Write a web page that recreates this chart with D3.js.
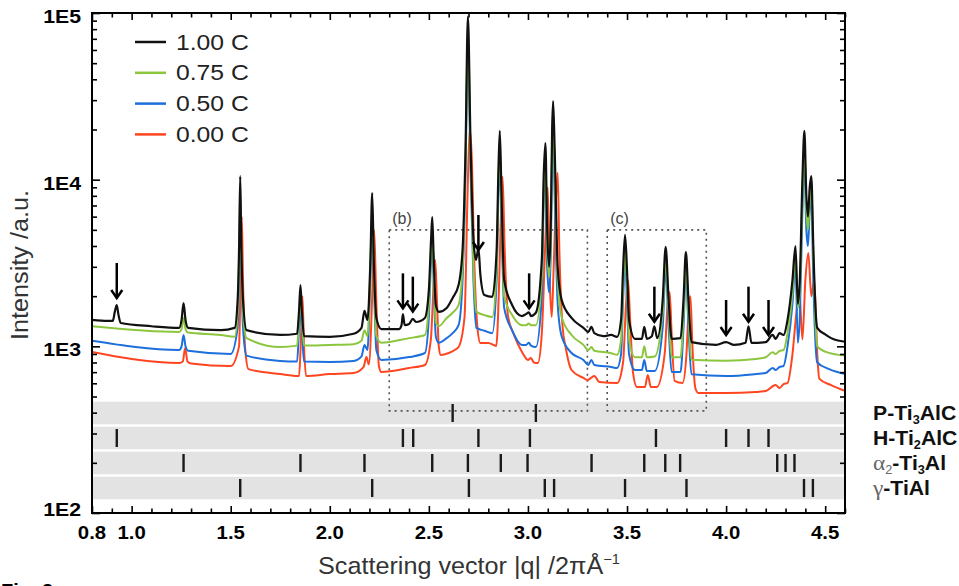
<!DOCTYPE html>
<html>
<head>
<meta charset="utf-8">
<script src="https://cdn.jsdelivr.net/npm/d3@7"></script>
<style>
  body { margin: 0; background: #fff; }
  svg { display: block; font-family: "Liberation Sans", Arial, sans-serif; }
</style>
</head>
<body>
<svg width="959" height="586"></svg>
<script>
// **** Data: [q (1/2piA), intensity (a.u.)] ****

var c100 = [
  [0.80,1440],[0.88,1420],[0.905,1420],[0.915,1610],[0.925,1770],[0.933,1560],[0.945,1380],
  [1.10,1320],[1.24,1290],[1.252,1440],[1.262,1820],[1.272,1440],[1.285,1290],
  [1.45,1250],[1.52,1290],[1.535,1900],[1.543,4350],[1.548,10500],[1.553,4350],[1.562,1900],[1.58,1250],
  [1.75,1170],[1.835,1190],[1.845,1650],[1.852,2330],[1.859,1650],[1.87,1150],
  [2.00,1140],[2.12,1190],[2.16,1290],[2.175,1630],[2.19,1440],[2.205,3300],[2.214,8320],[2.222,3300],[2.235,1480],[2.26,1270],
  [2.35,1270],[2.362,1340],[2.369,1560],[2.378,1340],[2.40,1360],[2.419,1460],[2.435,1400],
  [2.48,1480],[2.50,2180],[2.511,4350],[2.517,5970],[2.523,3790],[2.535,1770],[2.55,1610],[2.59,1700],[2.62,1950],[2.65,2330],
  [2.67,3790],[2.685,15100],[2.697,95000],[2.71,17300],[2.725,4350],[2.738,3300],[2.75,3890],[2.76,2680],[2.78,2030],[2.82,1980],
  [2.842,3790],[2.851,11400],[2.858,19600],[2.866,8670],[2.88,2500],[2.92,1770],[2.97,1520],[2.99,1560],[3.005,1600],[3.015,1520],[3.04,1590],
  [3.07,3300],[3.08,11000],[3.088,16600],[3.097,5000],[3.107,3000],[3.116,6000],[3.122,20000],[3.127,29600],[3.135,15000],[3.15,3000],[3.17,1900],
  [3.22,1480],[3.28,1290],[3.305,1220],[3.32,1310],[3.335,1200],[3.38,1150],[3.42,1170],[3.45,1140],
  [3.47,1440],[3.48,2870],[3.49,4660],[3.50,2870],[3.51,1440],[3.54,1110],[3.575,1110],[3.587,1310],[3.60,1110],[3.625,1150],[3.638,1320],[3.652,1120],
  [3.68,1900],[3.695,3950],[3.71,1900],[3.725,1110],[3.77,1120],[3.785,1900],[3.797,3680],[3.81,1900],[3.825,1060],
  [3.95,1020],[4.00,1060],[4.04,1020],[4.098,1050],[4.113,1320],[4.128,1050],[4.20,1060],[4.235,1170],[4.25,1110],[4.27,1200],[4.29,1170],
  [4.31,1440],[4.335,2500],[4.35,4000],[4.362,1800],[4.372,2500],[4.385,9950],[4.395,19600],[4.405,8000],[4.413,6000],[4.422,9000],[4.43,10500],
  [4.44,4000],[4.45,1800],[4.46,1290],[4.50,1180],[4.53,1120],[4.60,1065]
];

var c075 = [
  [0.80,1320],[1.24,1220],[1.252,1270],[1.262,1480],[1.272,1270],[1.285,1210],
  [1.45,1170],[1.52,1140],[1.535,1600],[1.543,3800],[1.548,8670],[1.553,3800],[1.562,1600],[1.58,1120],
  [1.75,990],[1.835,1010],[1.845,1500],[1.852,2030],[1.859,1500],[1.87,1010],
  [2.00,1020],[2.12,1030],[2.16,1080],[2.175,1250],[2.19,1150],[2.205,3000],[2.214,7050],[2.222,3000],[2.235,1150],[2.26,1050],
  [2.40,1120],[2.48,1170],[2.50,1800],[2.511,3800],[2.517,4660],[2.523,3200],[2.535,1400],[2.55,1320],[2.59,1480],[2.62,1590],[2.65,1770],
  [2.67,3000],[2.685,13000],[2.697,79000],[2.71,14000],[2.725,3000],[2.74,1610],[2.78,1540],[2.82,1500],
  [2.842,3000],[2.851,9500],[2.858,16100],[2.866,7000],[2.88,2000],[2.92,1540],[2.97,1340],[2.99,1340],[3.005,1370],[3.015,1340],[3.04,1340],
  [3.07,2600],[3.08,9500],[3.088,13100],[3.097,4000],[3.107,2600],[3.116,5000],[3.122,17000],[3.127,24400],[3.135,11000],[3.15,2500],[3.17,1500],
  [3.22,1170],[3.28,1020],[3.305,950],[3.32,990],[3.335,940],[3.42,910],[3.45,890],
  [3.47,1100],[3.48,2300],[3.49,3790],[3.50,2300],[3.51,1100],[3.54,860],[3.575,860],[3.587,1000],[3.60,860],[3.64,870],
  [3.68,1600],[3.695,3390],[3.71,1600],[3.725,860],[3.77,860],[3.785,1550],[3.797,3200],[3.81,1550],[3.825,830],
  [4.00,820],[4.15,840],[4.20,860],[4.235,920],[4.25,900],[4.27,940],[4.29,950],
  [4.31,1200],[4.335,2100],[4.35,3530],[4.362,1700],[4.372,2200],[4.385,8000],[4.395,16100],[4.405,6500],[4.413,5000],[4.422,7500],[4.43,9300],
  [4.44,3500],[4.45,1500],[4.46,1000],[4.50,930],[4.60,880]
];

var c050 = [
  [0.80,1080],[1.24,951],[1.252,1000],[1.262,1170],[1.272,1000],[1.285,940],
  [1.50,900],[1.535,1300],[1.543,3300],[1.548,7550],[1.553,3300],[1.562,1300],[1.58,880],
  [1.75,817],[1.835,810],[1.845,1300],[1.852,1770],[1.859,1300],[1.87,810],
  [2.00,805],[2.12,817],[2.16,870],[2.175,1020],[2.19,951],[2.205,2700],[2.214,6140],[2.222,2700],[2.235,950],[2.26,828],
  [2.40,862],[2.48,912],[2.50,1500],[2.511,3300],[2.517,4050],[2.523,2700],[2.535,1150],[2.55,1050],[2.59,1120],[2.62,1200],[2.65,1340],
  [2.67,2500],[2.685,11000],[2.697,68900],[2.71,12000],[2.725,2500],[2.74,1290],[2.78,1240],[2.82,1200],
  [2.842,2500],[2.851,8000],[2.858,14100],[2.866,6000],[2.88,1700],[2.92,1250],[2.97,1020],[2.99,1020],[3.005,1050],[3.015,1010],[3.04,990],
  [3.07,2000],[3.08,8000],[3.088,10700],[3.097,3000],[3.107,2100],[3.116,4000],[3.122,15000],[3.127,19900],[3.135,8000],[3.15,1800],[3.17,1150],
  [3.22,912],[3.28,828],[3.305,773],[3.32,828],[3.335,773],[3.42,751],[3.45,741],
  [3.47,900],[3.48,1900],[3.49,3300],[3.50,1900],[3.51,900],[3.54,721],[3.575,721],[3.587,828],[3.60,711],[3.64,711],
  [3.68,1300],[3.695,2950],[3.71,1300],[3.725,701],[3.77,701],[3.785,1300],[3.797,2780],[3.81,1300],[3.825,680],
  [4.00,664],[4.15,682],[4.20,692],[4.235,741],[4.25,721],[4.27,752],[4.29,762],
  [4.31,1000],[4.335,1800],[4.35,3200],[4.362,1050],[4.372,1500],[4.385,6500],[4.395,13100],[4.405,5000],[4.413,4000],[4.422,6500],[4.43,8080],
  [4.44,2500],[4.45,1100],[4.46,800],[4.52,730],[4.60,682]
];

var c000 = [
  [0.80,925],[1.24,794],[1.258,810],[1.27,977],[1.282,810],[1.30,790],
  [1.50,762],[1.542,1000],[1.55,2500],[1.556,6000],[1.562,2500],[1.572,1000],[1.59,730],
  [1.75,682],[1.845,664],[1.853,1000],[1.862,2000],[1.87,1000],[1.88,664],
  [2.00,682],[2.12,692],[2.17,750],[2.185,862],[2.197,780],[2.214,2000],[2.224,4990],[2.234,2000],[2.248,760],[2.26,701],
  [2.40,741],[2.48,773],[2.51,1100],[2.525,2500],[2.532,3300],[2.54,2000],[2.55,1000],[2.56,887],[2.60,912],[2.63,951],[2.65,991],
  [2.68,1500],[2.695,8000],[2.706,20000],[2.716,14000],[2.73,3000],[2.745,1300],[2.76,1047],[2.80,1047],[2.84,1005],
  [2.855,2500],[2.865,7000],[2.872,10400],[2.882,4000],[2.90,1500],[2.93,1169],[2.97,925],[3.00,828],[3.015,851],[3.03,800],[3.05,794],
  [3.07,1200],[3.09,5000],[3.10,9000],[3.11,2500],[3.12,1500],[3.13,3000],[3.142,8000],[3.15,11000],[3.158,4000],[3.175,1300],[3.19,991],
  [3.22,721],[3.28,646],[3.30,628],[3.335,664],[3.36,611],[3.45,602],
  [3.48,800],[3.495,1800],[3.505,2500],[3.515,1500],[3.53,700],[3.55,570],[3.59,570],[3.605,673],[3.62,570],[3.65,570],
  [3.69,900],[3.705,1800],[3.715,2120],[3.725,1200],[3.74,620],[3.78,602],[3.80,900],[3.812,1800],[3.82,2000],[3.83,1000],[3.845,560],[3.86,525],
  [4.00,525],[4.15,532],[4.20,539],[4.25,586],[4.27,562],[4.29,594],[4.31,602],
  [4.335,900],[4.355,1600],[4.37,2090],[4.385,1100],[4.40,2500],[4.415,3630],[4.43,2000],[4.445,2500],[4.46,900],[4.47,640],[4.53,585],[4.60,540]
];

var seriesNames = ['1.00 C', '0.75 C', '0.50 C', '0.00 C'];
var seriesColors = ['#111111', '#8cc63e', '#1c6fdc', '#ff4520'];

// reference lines of the phases (q positions)
var phaseNames = ['P-Ti3AlC', 'H-Ti2AlC', 'α2-Ti3Al', 'γ-TiAl'];
var pTi3AlC = [2.62, 3.04];
var hTi2AlC = [0.925, 2.369, 2.421, 2.75, 3.01, 3.646, 4.00, 4.113, 4.214];
var a2Ti3Al = [1.262, 1.852, 2.175, 2.517, 2.697, 2.863, 2.998, 3.321, 3.587, 3.693, 3.768, 4.258, 4.30, 4.345];
var gTiAl = [1.548, 2.214, 2.702, 3.085, 3.132, 3.49, 3.80, 4.393, 4.438];

// arrows marking H-Ti2AlC reflections: q and intensity at the arrow tip
var arrowQ = [0.925, 2.369, 2.419, 2.75, 3.006, 3.638, 4.00, 4.113, 4.214];
var arrowTip = [1950, 1690, 1615, 3785, 1690, 1406, 1170, 1406, 1170];

// zoom boxes (b) and (c)
var boxLabels = ['(b)', '(c)'];
var boxQ = [[2.3, 3.3], [3.4, 3.9]];
var boxI = [410, 5000];

var xTickLabels = [0.8, 1.0, 1.5, 2.0, 2.5, 3.0, 3.5, 4.0, 4.5];
var yTickValues = [1e2, 1e3, 1e4, 1e5];
var yTickLabels = ['1E2', '1E3', '1E4', '1E5'];

// **** Scales ****
var x = d3.scaleLinear().domain([0.8, 4.6]).range([92, 845]);
var y = d3.scaleLog().domain([100, 1e5]).range([513, 13]);
var band = d3.scaleBand().domain(phaseNames).range([401.7, 499.3]).paddingInner(0.096);

var svg = d3.select('svg');

function stretched(sel, tx, ty, sx) {
    return sel.attr('transform', 'translate(' + tx + ',' + ty + ') scale(' + sx + ',1)');
}

// **** Phase bands ****
svg.append('g').selectAll('rect')
    .data(phaseNames).enter().append('rect')
    .attr('x', x(0.8)).attr('width', x(4.6) - x(0.8))
    .attr('y', d => band(d)).attr('height', band.bandwidth())
    .attr('fill', '#e3e3e3');

var phaseLines = [pTi3AlC, hTi2AlC, a2Ti3Al, gTiAl];
phaseLines.forEach(function(qs, i) {
    var yc = band(phaseNames[i]) + band.bandwidth() / 2;
    svg.append('g').selectAll('line')
        .data(qs).enter().append('line')
        .attr('x1', d => x(d)).attr('x2', d => x(d))
        .attr('y1', yc - 9).attr('y2', yc + 9)
        .attr('stroke', '#1a1a1a').attr('stroke-width', 2.4);
});

// **** Dotted zoom boxes ****
boxQ.forEach(function(q, i) {
    svg.append('rect')
        .attr('x', x(q[0])).attr('y', y(boxI[1]))
        .attr('width', x(q[1]) - x(q[0])).attr('height', y(boxI[0]) - y(boxI[1]))
        .attr('fill', 'none').attr('stroke', '#555')
        .attr('stroke-width', 1.6).attr('stroke-dasharray', '2,4');
    svg.append('text')
        .attr('x', x(q[0]) + 3).attr('y', y(boxI[1]) - 6)
        .attr('font-size', 16).attr('fill', '#444')
        .text(boxLabels[i]);
});

// **** Spectra ****
var line = d3.line()
    .x(d => x(d[0])).y(d => y(d[1]))
    .curve(d3.curveMonotoneX);

svg.append('clipPath').attr('id', 'plot')
    .append('rect').attr('x', 92).attr('y', 13).attr('width', 753).attr('height', 500);

var allSeries = [c100, c075, c050, c000];
var drawOrder = [3, 2, 1, 0];
var curves = svg.append('g').attr('clip-path', 'url(#plot)');
drawOrder.forEach(function(i) {
    curves.append('path')
        .datum(allSeries[i])
        .attr('d', line)
        .attr('fill', 'none')
        .attr('stroke', seriesColors[i])
        .attr('stroke-width', i === 0 ? 2.2 : 2)
        .attr('stroke-linejoin', 'round');
});

// **** Arrows ****
var arrows = svg.append('g').attr('stroke', '#000').attr('fill', 'none');
arrowQ.forEach(function(q, i) {
    var ax = x(q), ay = y(arrowTip[i]);
    arrows.append('line')
        .attr('x1', ax).attr('x2', ax)
        .attr('y1', ay - 35).attr('y2', ay - 1)
        .attr('stroke-width', 2.5);
    arrows.append('path')
        .attr('d', 'M' + (ax - 5.5) + ',' + (ay - 8) + 'L' + ax + ',' + ay + 'L' + (ax + 5.5) + ',' + (ay - 8))
        .attr('stroke-width', 2.5);
});

// **** Axes (ticks inward on all four sides) ****
var xMinor = d3.range(9, 47).map(d => d / 10).filter(d => xTickLabels.indexOf(d) < 0);
var yMinor = [];
[100, 1000, 10000].forEach(function(dec) {
    for (var m = 2; m <= 9; m++) yMinor.push(dec * m);
});

function styleAxis(g) {
    g.select('.domain').remove();
    g.selectAll('line').attr('stroke', '#000').attr('stroke-width', 1.6);
}

svg.append('g').attr('transform', 'translate(0,513)')
    .call(d3.axisBottom(x).tickValues(xTickLabels).tickSize(-7).tickFormat('')).call(styleAxis);
svg.append('g').attr('transform', 'translate(0,513)')
    .call(d3.axisBottom(x).tickValues(xMinor).tickSize(-4.5).tickFormat('')).call(styleAxis);
svg.append('g').attr('transform', 'translate(0,13)')
    .call(d3.axisTop(x).tickValues(xTickLabels).tickSize(-7).tickFormat('')).call(styleAxis);
svg.append('g').attr('transform', 'translate(0,13)')
    .call(d3.axisTop(x).tickValues(xMinor).tickSize(-4.5).tickFormat('')).call(styleAxis);
svg.append('g').attr('transform', 'translate(92,0)')
    .call(d3.axisLeft(y).tickValues(yTickValues).tickSize(-8).tickFormat('')).call(styleAxis);
svg.append('g').attr('transform', 'translate(92,0)')
    .call(d3.axisLeft(y).tickValues(yMinor).tickSize(-5).tickFormat('')).call(styleAxis);
svg.append('g').attr('transform', 'translate(845,0)')
    .call(d3.axisRight(y).tickValues(yTickValues).tickSize(-8).tickFormat('')).call(styleAxis);
svg.append('g').attr('transform', 'translate(845,0)')
    .call(d3.axisRight(y).tickValues(yMinor).tickSize(-5).tickFormat('')).call(styleAxis);

svg.append('rect')
    .attr('x', 92).attr('y', 13).attr('width', 753).attr('height', 500)
    .attr('fill', 'none').attr('stroke', '#000').attr('stroke-width', 2);

// tick labels
svg.append('g').selectAll('text')
    .data(xTickLabels).enter().append('text')
    .each(function(d) { stretched(d3.select(this), x(d), 539, 1.1); })
    .attr('text-anchor', 'middle')
    .attr('font-size', 18.5).attr('font-weight', 'bold')
    .text(d => d.toFixed(1));

svg.append('g').selectAll('text')
    .data(yTickValues).enter().append('text')
    .each(function(d) { stretched(d3.select(this), 81, Math.min(y(d) + 10, 516), 1.15); })
    .attr('text-anchor', 'end')
    .attr('font-size', 18.5).attr('font-weight', 'bold')
    .text((d, i) => yTickLabels[i]);

// axis titles
stretched(svg.append('text'), 469, 574, 1.05)
    .attr('text-anchor', 'middle').attr('font-size', 24).attr('fill', '#333')
    .text('Scattering vector |q| /2πÅ')
    .append('tspan').attr('font-size', 14).attr('dy', -10).text('−1');

svg.append('text')
    .attr('transform', 'translate(28,265) rotate(-90) scale(1.05,1)')
    .attr('text-anchor', 'middle').attr('font-size', 24).attr('fill', '#333')
    .text('Intensity /a.u.');

// **** Legend ****
var legend = svg.append('g');
seriesNames.forEach(function(name, i) {
    var ly = 42 + i * 30.8;
    legend.append('line')
        .attr('x1', 135).attr('x2', 166).attr('y1', ly).attr('y2', ly)
        .attr('stroke', seriesColors[i]).attr('stroke-width', 2.5);
    stretched(legend.append('text'), 176, ly + 7.5, 1.15)
        .attr('font-size', 21.5).attr('fill', '#222')
        .text(name);
});

// **** Phase labels ****
var labelParts = [
    [['P-Ti', 'b'], ['3', 'sb'], ['AlC', 'b']],
    [['H-Ti', 'b'], ['2', 'sb'], ['AlC', 'b']],
    [['α', 'g'], ['2', 'sg'], ['-Ti', 'b'], ['3', 'sb'], ['Al', 'b']],
    [['γ', 'g'], ['-TiAl', 'b']]
];
phaseNames.forEach(function(name, i) {
    var t = stretched(svg.append('text'), 873, band(name) + band.bandwidth() / 2 + 7, 1.06)
        .attr('font-size', 20);
    var shift = 0;
    labelParts[i].forEach(function(p) {
        var sub = p[1][0] === 's';
        var greek = p[1].indexOf('g') >= 0;
        var ts = t.append('tspan').text(p[0])
            .attr('font-weight', greek ? 'normal' : 'bold')
            .attr('fill', greek ? '#666' : '#111');
        if (greek && !sub) ts.attr('font-family', '"Liberation Serif", "DejaVu Serif", serif').attr('font-size', 22);
        if (sub) { ts.attr('font-size', 12).attr('dy', 4 - shift); shift = 4; }
        else if (shift) { ts.attr('dy', -shift); shift = 0; }
    });
});

// figure caption, cut off at the bottom edge as in the source
svg.append('text')
    .attr('x', 1).attr('y', 598)
    .attr('font-size', 20).attr('font-weight', 'bold')
    .text('Fig. 2');
</script>
</body>
</html>
